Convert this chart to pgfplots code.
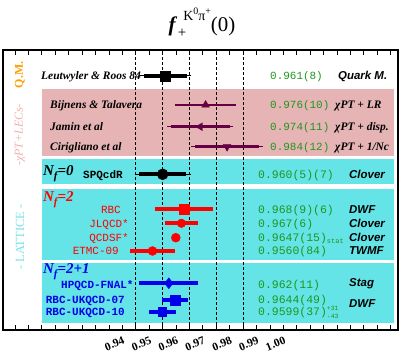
\documentclass[border=0pt]{standalone}
\usepackage{pgfplots}
\pgfplotsset{compat=1.18}
\usepackage{fontspec}
\setmainfont{Liberation Serif}
\setsansfont{Liberation Sans}
\setmonofont{Liberation Mono}
\newcommand\fs[1]{\fontsize{#1}{#1}\selectfont}
\definecolor{pinkband}{RGB}{230,180,180}
\definecolor{cyanband}{RGB}{100,228,230}
\definecolor{purp}{RGB}{102,0,68}
\definecolor{myred}{RGB}{255,0,0}
\definecolor{myblue}{RGB}{0,0,235}
\definecolor{mygreen}{RGB}{30,150,30}
\definecolor{myorange}{RGB}{255,160,0}
\definecolor{pinklab}{RGB}{240,175,175}
\definecolor{cyanlab}{RGB}{120,225,230}
\begin{document}
\begin{tikzpicture}
\useasboundingbox (0,0) rectangle (407bp,356bp);
\begin{axis}[
  at={(3bp,26bp)}, anchor=south west,
  scale only axis, width=395bp, height=280bp,
  xmin=0.9005, xmax=1.0477, ymin=0, ymax=280,
  axis line style={line width=1.6bp},
  ytick=\empty,
  xtick={0.94,0.95,0.96,0.97,0.98,0.99,1.00},
  xticklabels={0.94,0.95,0.96,0.97,0.98,0.99,1.00},
  minor xtick={0.905,0.91,0.915,0.92,0.925,0.93,0.935,0.945,0.955,0.965,0.975,0.985,0.995,1.005,1.01,1.015,1.02,1.025,1.03,1.035,1.04,1.045},
  xtick pos=both, xticklabel pos=bottom,
  tick align=inside,
  major tick length=5bp, minor tick length=5bp,
  every tick/.style={black, line width=0.9bp},
  xticklabel style={font=\fs{11.5}\bfseries, rotate=22, anchor=center, inner sep=0pt, yshift=-15bp},
  clip=false,
]
% bands
\addplot[fill=pinkband, draw=none] coordinates {(0.9149,174) (1.0463,174) (1.0463,240.7) (0.9149,240.7)};
\addplot[fill=cyanband, draw=none] coordinates {(0.9149,146) (1.0463,146) (1.0463,170.7) (0.9149,170.7)};
\addplot[fill=cyanband, draw=none] coordinates {(0.9149,70) (1.0463,70) (1.0463,141) (0.9149,141)};
\addplot[fill=cyanband, draw=none] coordinates {(0.9149,6.7) (1.0463,6.7) (1.0463,67.3) (0.9149,67.3)};
% dashed lines
\addplot[black, line width=0.7bp, dash pattern=on 3bp off 2bp] coordinates {(0.95,0) (0.95,280)};
\addplot[black, line width=0.7bp, dash pattern=on 3bp off 2bp] coordinates {(0.96,0) (0.96,280)};
\addplot[black, line width=0.7bp, dash pattern=on 3bp off 2bp] coordinates {(0.97,0) (0.97,280)};
\addplot[black, line width=0.7bp, dash pattern=on 3bp off 2bp] coordinates {(0.98,0) (0.98,280)};
\addplot[black, line width=0.7bp, dash pattern=on 3bp off 2bp] coordinates {(0.99,0) (0.99,280)};
% Quark model
\addplot[black, only marks, mark=square*, mark size=5bp,
  error bars/.cd, x dir=both, x explicit,
  error bar style={line width=4bp, black},
  error mark options={line width=1.5bp, mark size=4.5bp, black}]
  coordinates {(0.961,254.3) +- (0.008,0)};
% ChPT
\addplot[purp, only marks, mark=triangle*, mark size=4.5bp,
  error bars/.cd, x dir=both, x explicit,
  error bar style={line width=2.6bp, purp},
  error mark options={line width=1.2bp, mark size=3.5bp, purp}]
  coordinates {(0.976,225) +- (0.010,0)};
\addplot[purp, only marks, mark=triangle*, mark size=4.5bp, mark options={rotate=90},
  error bars/.cd, x dir=both, x explicit,
  error bar style={line width=2.6bp, purp},
  error mark options={line width=1.2bp, mark size=3.5bp, purp}]
  coordinates {(0.974,203.3) +- (0.011,0)};
\addplot[purp, only marks, mark=triangle*, mark size=4.5bp, mark options={rotate=180},
  error bars/.cd, x dir=both, x explicit,
  error bar style={line width=2.6bp, purp},
  error mark options={line width=1.2bp, mark size=3.5bp, purp}]
  coordinates {(0.984,183.3) +- (0.012,0)};
% Nf=0
\addplot[black, only marks, mark=*, mark size=5.5bp,
  error bars/.cd, x dir=both, x explicit,
  error bar style={line width=4bp, black},
  error mark options={line width=1.5bp, mark size=4.5bp, black}]
  coordinates {(0.960,155.7) +- (0.0088,0)};
% Nf=2
\addplot[myred, only marks, mark=square*, mark size=5bp,
  error bars/.cd, x dir=both, x explicit,
  error bar style={line width=4bp, myred}, error mark=none]
  coordinates {(0.968,120.7) +- (0.0108,0)};
\addplot[myred, only marks, mark=*, mark size=4.3bp,
  error bars/.cd, x dir=both, x explicit,
  error bar style={line width=4bp, myred}, error mark=none]
  coordinates {(0.967,106.7) +- (0.006,0)};
\addplot[myred, only marks, mark=*, mark size=4.5bp,
  error bars/.cd, x dir=both, x explicit,
  error bar style={line width=4bp, myred}, error mark=none]
  coordinates {(0.9649,92.3) +- (0.0015,0)};
\addplot[myred, only marks, mark=*, mark size=4.5bp,
  error bars/.cd, x dir=both, x explicit,
  error bar style={line width=4bp, myred}, error mark=none]
  coordinates {(0.9562,79) +- (0.0084,0)};
% Nf=2+1
\addplot[myblue, only marks, mark=diamond*, mark size=5.5bp,
  error bars/.cd, x dir=both, x explicit,
  error bar style={line width=4bp, myblue}, error mark=none]
  coordinates {(0.9623,46.7) +- (0.011,0)};
\addplot[myblue, only marks, mark=square*, mark size=4.7bp,
  error bars/.cd, x dir=both, x explicit,
  error bar style={line width=4bp, myblue}, error mark=none]
  coordinates {(0.9646,30) +- (0.0048,0)};
\addplot[myblue, only marks, mark=square*, mark size=4.2bp,
  error bars/.cd, x dir=both, x explicit,
  error bar style={line width=4bp, myblue}, error mark=none]
  coordinates {(0.9599,18.3) +- (0.005,0)};
\end{axis}
% title
\node[anchor=base] at (202bp,324bp) {\fs{21}\textbf{\textit{f}}\hspace{0.5bp}\raisebox{-6bp}{\fs{15}+}\hspace{-3bp}\raisebox{11bp}{\fs{14}K\raisebox{6bp}{\fs{10}0}π\raisebox{6bp}{\fs{10}+}}(0)};
% side labels
\node[rotate=90, myorange] at (20bp,281bp) {\fs{12}\bfseries Q.M.};
\node[rotate=90, pinklab] at (20bp,221bp) {\fs{12}\itshape -χPT+LECs-};
\node[rotate=90, cyanlab] at (20bp,119bp) {\fs{12.5}- LATTICE -};
% names
\node[anchor=base east, inner sep=0] at (141bp,276.3bp) {\fs{11.5}\bfseries\itshape Leutwyler \& Roos 84};
\node[anchor=base west, inner sep=0] at (50bp,247bp) {\fs{11.5}\bfseries\itshape Bijnens \& Talavera};
\node[anchor=base west, inner sep=0] at (50bp,225.3bp) {\fs{11.5}\bfseries\itshape Jamin et al};
\node[anchor=base west, inner sep=0] at (50bp,205.3bp) {\fs{11.5}\bfseries\itshape Cirigliano et al};
\node[anchor=base west, inner sep=0] at (43bp,180bp) {\fs{15}\bfseries\itshape N\raisebox{-4bp}{\fs{11}f}=0};
\node[anchor=base west, inner sep=0] at (83bp,177.7bp) {\fs{11}\ttfamily\bfseries SPQcdR};
\node[anchor=base west, inner sep=0, myred] at (43bp,154bp) {\fs{15}\bfseries\itshape N\raisebox{-4bp}{\fs{11}f}=2};
\node[anchor=base east, inner sep=0, myred] at (121bp,142.7bp) {\fs{11}\ttfamily RBC};
\node[anchor=base east, inner sep=0, myred] at (129bp,128.7bp) {\fs{11}\ttfamily JLQCD*};
\node[anchor=base east, inner sep=0, myred] at (129bp,114.3bp) {\fs{11}\ttfamily QCDSF*};
\node[anchor=base east, inner sep=0, myred] at (119bp,101bp) {\fs{11}\ttfamily ETMC-09};
\node[anchor=base west, inner sep=0, myblue] at (43bp,82bp) {\fs{15}\bfseries\itshape N\raisebox{-4bp}{\fs{11}f}=2+1};
\node[anchor=base west, inner sep=0, myblue] at (61bp,67bp) {\fs{11}\ttfamily\bfseries HPQCD-FNAL*};
\node[anchor=base west, inner sep=0, myblue] at (45.7bp,52bp) {\fs{11}\ttfamily\bfseries RBC-UKQCD-07};
\node[anchor=base west, inner sep=0, myblue] at (45.7bp,40.3bp) {\fs{11}\ttfamily\bfseries RBC-UKQCD-10};
% values
\begin{scope}[every node/.style={anchor=base west, inner sep=0, mygreen, font=\fs{11}\ttfamily}]
\node at (270bp,276.3bp) {0.961(8)};
\node at (270bp,247bp) {0.976(10)};
\node at (270bp,225.3bp) {0.974(11)};
\node at (270bp,205.3bp) {0.984(12)};
\end{scope}
\begin{scope}[every node/.style={anchor=base west, inner sep=0, mygreen, font=\fs{11.5}\ttfamily}]
\node at (258bp,177.7bp) {0.960(5)(7)};
\node at (258bp,142.7bp) {0.968(9)(6)};
\node at (258bp,128.7bp) {0.967(6)};
\node at (258bp,114.3bp) {0.9647(15)\raisebox{-2bp}{\fs{7}stat}};
\node at (258bp,101bp) {0.9560(84)};
\node at (258bp,67bp) {0.962(11)};
\node at (258bp,52bp) {0.9644(49)};
\node at (258bp,40.3bp) {0.9599(37)\rlap{\raisebox{5bp}{\fs{6.5}+31}}\raisebox{-3bp}{\fs{6.5}-43}};
\end{scope}
% methods
\begin{scope}[every node/.style={anchor=base west, inner sep=0}]
\node at (338bp,276.3bp) {\fs{11.5}\sffamily\bfseries\itshape Quark M.};
\node at (335bp,247bp) {\fs{11.5}\bfseries\itshape χPT + LR};
\node at (335bp,225.3bp) {\fs{11.5}\bfseries\itshape χPT + disp.};
\node at (335bp,205.3bp) {\fs{11.5}\bfseries\itshape χPT + 1/Nc};
\node at (349bp,177.7bp) {\fs{11.5}\sffamily\bfseries\itshape Clover};
\node at (349bp,142.7bp) {\fs{11.5}\sffamily\bfseries\itshape DWF};
\node at (349bp,128.7bp) {\fs{11.5}\sffamily\bfseries\itshape Clover};
\node at (349bp,114.3bp) {\fs{11.5}\sffamily\bfseries\itshape Clover};
\node at (349bp,101bp) {\fs{11.5}\sffamily\bfseries\itshape TWMF};
\node at (349bp,69bp) {\fs{11.5}\sffamily\bfseries\itshape Stag};
\node at (349bp,48.7bp) {\fs{11.5}\sffamily\bfseries\itshape DWF};
\end{scope}
\end{tikzpicture}
\end{document}
